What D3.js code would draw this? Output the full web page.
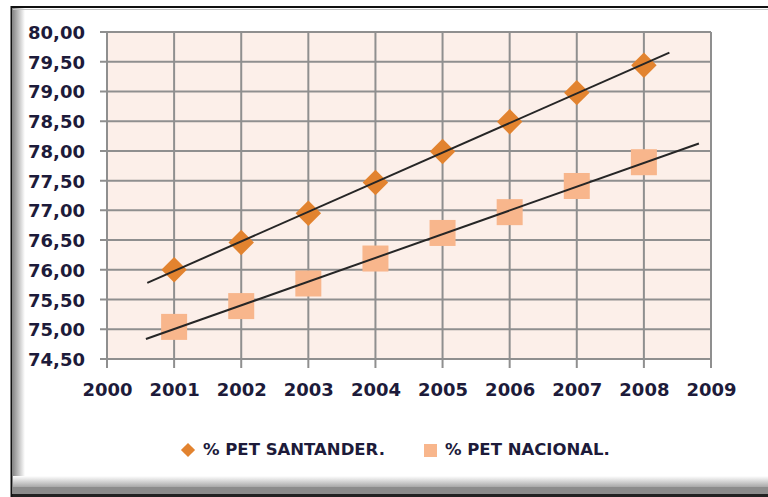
<!DOCTYPE html>
<html>
<head>
<meta charset="utf-8">
<script src="https://cdn.jsdelivr.net/npm/d3@7"></script>
<style>
  html, body { margin: 0; padding: 0; background: #ffffff; }
  svg { display: block; }
</style>
</head>
<body>
<svg id="chart" width="768" height="497"></svg>
<script>
// ---- data ----
const years = [2001, 2002, 2003, 2004, 2005, 2006, 2007, 2008];
const santander = [76.00, 76.46, 76.95, 77.47, 77.99, 78.49, 78.98, 79.44];
const nacional  = [75.04, 75.39, 75.77, 76.19, 76.62, 76.97, 77.41, 77.81];
const seriesNames = ["% PET SANTANDER.", "% PET NACIONAL."];
const trendStart = [2000.6, 2000.58];
const trendEnd   = [2008.38, 2008.82];
const yTicks = [74.5, 75, 75.5, 76, 76.5, 77, 77.5, 78, 78.5, 79, 79.5, 80];
const xTicks = [2000, 2001, 2002, 2003, 2004, 2005, 2006, 2007, 2008, 2009];

// ---- layout ----
const svg = d3.select("#chart");
const W = 768, H = 497;
const plot = { left: 107, right: 711, top: 32, bottom: 359 };
const gridColor = "#8f8f8f";
const textColor = "#1d1b3a";
const font = "'DejaVu Sans', sans-serif";

const x = d3.scaleLinear().domain([2000, 2009]).range([plot.left, plot.right]);
const y = d3.scaleLinear().domain([74.5, 80]).range([plot.bottom, plot.top]);

// ---- frame ----
const defs = svg.append("defs");
const gL = defs.append("linearGradient").attr("id", "gl").attr("x1", 0).attr("x2", 1).attr("y1", 0).attr("y2", 0);
gL.append("stop").attr("offset", 0).attr("stop-color", "#8a8a8a");
gL.append("stop").attr("offset", 1).attr("stop-color", "#ffffff");
const gB = defs.append("linearGradient").attr("id", "gb").attr("x1", 0).attr("x2", 0).attr("y1", 0).attr("y2", 1);
gB.append("stop").attr("offset", 0).attr("stop-color", "#ffffff");
gB.append("stop").attr("offset", 1).attr("stop-color", "#a8a8a8");

svg.append("rect").attr("x", 13).attr("y", 8).attr("width", 12).attr("height", 480).attr("fill", "url(#gl)");
svg.append("rect").attr("x", 13).attr("y", 476).attr("width", W - 13).attr("height", 11).attr("fill", "url(#gb)");
svg.append("rect").attr("x", 13).attr("y", 487).attr("width", W - 13).attr("height", 7).attr("fill", "#8c8c8c");
svg.append("rect").attr("x", 11).attr("y", 494).attr("width", W - 11).attr("height", 3).attr("fill", "#222");
svg.append("line").attr("x1", 13).attr("x2", W).attr("y1", 9.5).attr("y2", 9.5).attr("stroke", "#c4c4c4").attr("stroke-width", 1);
svg.append("line").attr("x1", 11.5).attr("x2", 11.5).attr("y1", 6).attr("y2", H).attr("stroke", "#111").attr("stroke-width", 2);
svg.append("line").attr("x1", 11).attr("x2", W).attr("y1", 7).attr("y2", 7).attr("stroke", "#111").attr("stroke-width", 2);

// ---- plot area ----
svg.append("rect")
  .attr("x", plot.left).attr("y", plot.top)
  .attr("width", plot.right - plot.left).attr("height", plot.bottom - plot.top)
  .attr("fill", "#fcefe9");

// gridlines
svg.append("g").selectAll("line").data(yTicks).join("line")
  .attr("x1", plot.left - 7).attr("x2", plot.right)
  .attr("y1", d => y(d)).attr("y2", d => y(d))
  .attr("stroke", gridColor).attr("stroke-width", 2);
svg.append("g").selectAll("line").data(xTicks).join("line")
  .attr("x1", d => x(d)).attr("x2", d => x(d))
  .attr("y1", plot.top).attr("y2", plot.bottom + 9)
  .attr("stroke", gridColor).attr("stroke-width", 2);

// axes (labels through d3 axes)
const fmt = d => d3.format(".2f")(d).replace(".", ",");
const yAxis = svg.append("g").attr("transform", `translate(${plot.left - 22},0)`)
  .call(d3.axisLeft(y).tickValues(yTicks).tickFormat(fmt).tickSize(0).tickPadding(0));
yAxis.select(".domain").remove();
yAxis.selectAll("text")
  .attr("font-family", font).attr("font-weight", "bold").attr("font-size", 18)
  .attr("fill", textColor).attr("dy", "0.36em");

const xAxis = svg.append("g").attr("transform", `translate(0,${plot.bottom + 24})`)
  .call(d3.axisBottom(x).tickValues(xTicks).tickFormat(d3.format("d")).tickSize(0).tickPadding(0));
xAxis.select(".domain").remove();
xAxis.selectAll("text")
  .attr("font-family", font).attr("font-weight", "bold").attr("font-size", 18)
  .attr("fill", textColor).attr("dy", "0.71em");

// ---- trendlines ----
function fit(xs, ys) {
  const mx = d3.mean(xs), my = d3.mean(ys);
  const b = d3.sum(xs, (v, i) => (v - mx) * (ys[i] - my)) / d3.sum(xs, v => (v - mx) ** 2);
  return { a: my - b * mx, b };
}
const allSeries = [santander, nacional];

// ---- markers ----
const diamond = d3.symbol().type(d3.symbolSquare).size(18 * 18);
svg.append("g").selectAll("path").data(years).join("path")
  .attr("d", diamond)
  .attr("transform", (d, i) => `translate(${x(d)},${y(santander[i])}) rotate(45)`)
  .attr("fill", "#e2832f");

svg.append("g").selectAll("rect").data(years).join("rect")
  .attr("x", d => x(d) - 13).attr("width", 26)
  .attr("y", (d, i) => y(nacional[i]) - 13).attr("height", 26)
  .attr("fill", "#f8b68c");

allSeries.forEach((s, k) => {
  const f = fit(years, s);
  const pts = [trendStart[k], trendEnd[k]].map(t => [x(t), y(f.a + f.b * t)]);
  svg.append("path")
    .attr("d", d3.line()(pts))
    .attr("stroke", "#262626").attr("stroke-width", 2).attr("fill", "none");
});

// ---- legend ----
const leg = svg.append("g");
leg.append("path").attr("d", d3.symbol().type(d3.symbolSquare).size(10 * 10))
  .attr("transform", "translate(188,450) rotate(45)").attr("fill", "#e2832f");
leg.append("text").attr("x", 203).attr("y", 455)
  .attr("font-family", font).attr("font-weight", "bold").attr("font-size", 16.5)
  .attr("fill", textColor).text(seriesNames[0]);
leg.append("rect").attr("x", 424).attr("y", 444).attr("width", 13).attr("height", 13).attr("fill", "#f8b68c");
leg.append("text").attr("x", 445).attr("y", 455)
  .attr("font-family", font).attr("font-weight", "bold").attr("font-size", 16.5)
  .attr("fill", textColor).text(seriesNames[1]);
</script>
</body>
</html>
